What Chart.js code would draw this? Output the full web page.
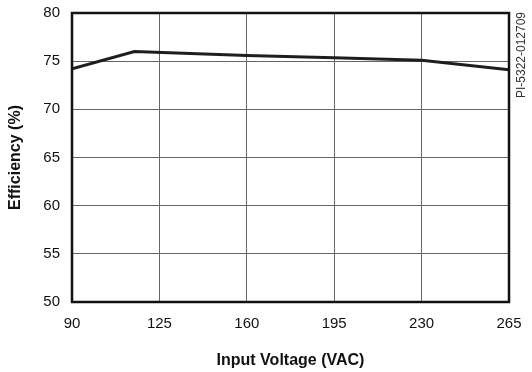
<!DOCTYPE html>
<html>
<head>
<meta charset="utf-8">
<script src="https://cdn.jsdelivr.net/npm/chart.js@4.4.0/dist/chart.umd.min.js"></script>
<style>
  html, body { margin: 0; padding: 0; background: #fff; }
  canvas { display: block; }
</style>
</head>
<body>
<canvas id="chart" width="532" height="372"></canvas>
<script>
// efficiency vs input voltage
const voltage = [90, 115, 160, 195, 230, 265];
const efficiency = [74.2, 76.0, 75.6, 75.35, 75.1, 74.1];
const xTicks = [90, 125, 160, 195, 230, 265];
const yTicks = [50, 55, 60, 65, 70, 75, 80];
const partNo = "PI-5322-012709";

const font = "'Liberation Sans', Arial, sans-serif";

// box round the plot + the little code on the right
const framePlugin = {
  id: "frame",
  afterDraw(chart) {
    const { ctx, chartArea: a } = chart;
    ctx.save();
    ctx.strokeStyle = "#111";
    ctx.lineWidth = 2.5;
    ctx.strokeRect(a.left, a.top, a.right - a.left, a.bottom - a.top);
    ctx.translate(a.right + 13, a.top + 42);
    ctx.rotate(-Math.PI / 2);
    ctx.fillStyle = "#333";
    ctx.font = "12px " + font;
    ctx.textAlign = "center";
    ctx.textBaseline = "middle";
    ctx.fillText(partNo, 0, 0);
    ctx.restore();
  }
};

new Chart(document.getElementById("chart"), {
  type: "scatter",
  plugins: [framePlugin],
  data: {
    datasets: [{
      data: voltage.map((v, i) => ({ x: v, y: efficiency[i] })),
      showLine: true,
      borderColor: "#1e1e1e",
      borderWidth: 3,
      pointRadius: 0,
      tension: 0
    }]
  },
  options: {
    responsive: false,
    animation: false,
    layout: { padding: { top: 13, right: 23, left: 0, bottom: 0 } },
    plugins: { legend: { display: false }, tooltip: { enabled: false } },
    scales: {
      x: {
        type: "linear",
        min: 90, max: 265,
        afterBuildTicks: s => { s.ticks = xTicks.map(v => ({ value: v })); },
        afterFit: s => { s.height = 70; s.paddingLeft = 0; s.paddingRight = 0; },
        grid: { color: "#666", lineWidth: 1, drawTicks: false },
        border: { display: false },
        ticks: { color: "#111", padding: 13, font: { family: font, size: 15 } },
        title: {
          display: true, text: "Input Voltage (VAC)", color: "#111",
          font: { family: font, size: 16, weight: "bold" },
          padding: { top: 0, bottom: 2 }
        }
      },
      y: {
        min: 50, max: 80,
        afterBuildTicks: s => { s.ticks = yTicks.map(v => ({ value: v })); },
        afterFit: s => { s.width = 72; s.paddingTop = 0; s.paddingBottom = 0; },
        grid: { color: "#666", lineWidth: 1, drawTicks: false },
        border: { display: false },
        ticks: { color: "#111", padding: 12, font: { family: font, size: 15 } },
        title: {
          display: true, text: "Efficiency (%)", color: "#111",
          font: { family: font, size: 16, weight: "bold" },
          padding: { top: 6, bottom: 0 }
        }
      }
    }
  }
});
</script>
</body>
</html>
